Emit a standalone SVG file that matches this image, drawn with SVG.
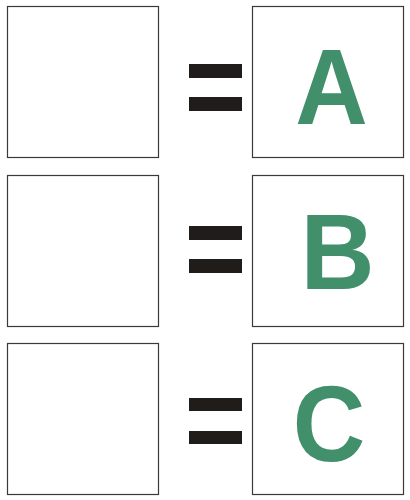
<svg xmlns="http://www.w3.org/2000/svg" width="410" height="500" viewBox="0 0 410 500">
<style>
.box{fill:#fff;stroke:#3a3a3a;stroke-width:1.2}
.bar{fill:#201c19}
.let{font-family:"Liberation Sans",Arial,sans-serif;font-weight:bold;font-size:108px;fill:#41906b;text-anchor:middle}
</style>
<rect width="410" height="500" fill="#fff"/>
<g id="row1">
<rect class="box" x="7.5" y="6.5" width="151" height="151"/>
<rect class="bar" x="189" y="64" width="53" height="14"/>
<rect class="bar" x="189" y="97" width="53" height="14"/>
<rect class="box" x="252.5" y="6.5" width="151" height="151"/>
<text class="let" transform="translate(331.5 124) scale(0.93 1)">A</text>
</g>
<g id="row2">
<rect class="box" x="7.5" y="175.5" width="151" height="151"/>
<rect class="bar" x="189" y="226" width="53" height="14"/>
<rect class="bar" x="189" y="259" width="53" height="14"/>
<rect class="box" x="252.5" y="175.5" width="151" height="151"/>
<text class="let" transform="translate(337.5 289) scale(0.95 1)">B</text>
</g>
<g id="row3">
<rect class="box" x="7.5" y="343.5" width="151" height="151"/>
<rect class="bar" x="189" y="398" width="53" height="13"/>
<rect class="bar" x="189" y="431" width="53" height="13"/>
<rect class="box" x="252.5" y="343.5" width="151" height="151"/>
<text class="let" transform="translate(329 461) scale(0.93 1)">C</text>
</g>
</svg>
